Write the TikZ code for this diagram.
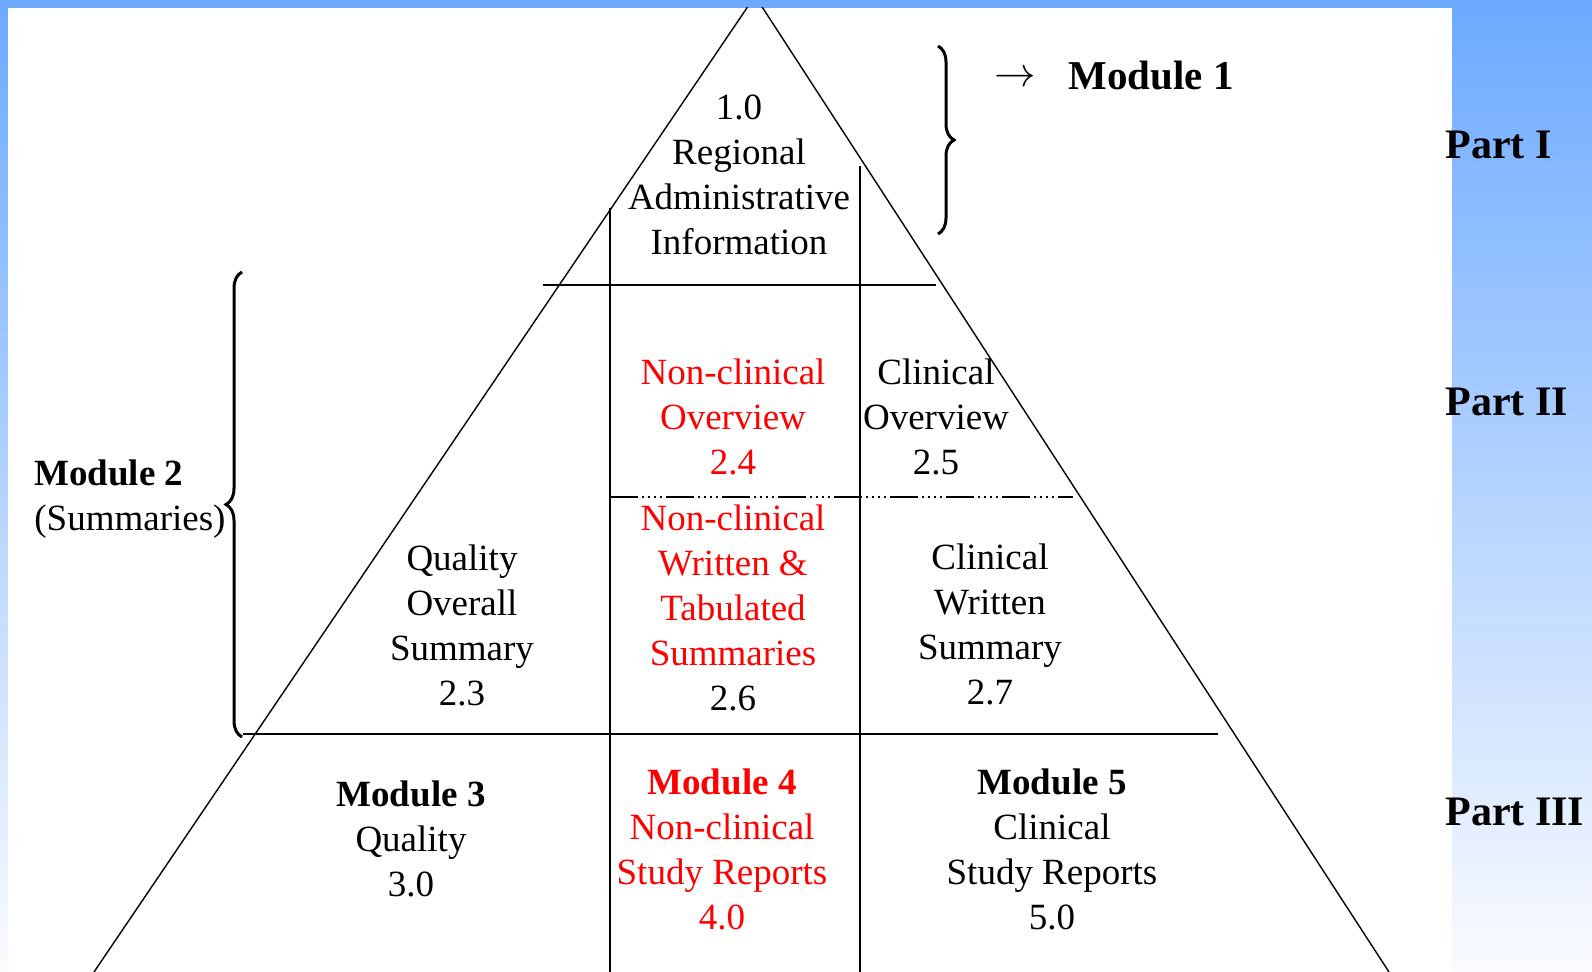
\documentclass[tikz,border=0pt]{standalone}
\usepackage{fontspec}
\setmainfont{LiberationSerif}[Extension=.ttf,UprightFont=*-Regular,BoldFont=*-Bold,ItalicFont=*-Italic,BoldItalicFont=*-BoldItalic]
\usetikzlibrary{decorations.pathreplacing,positioning}
\definecolor{bgtop}{RGB}{108,170,255}
\definecolor{bgbot}{RGB}{250,251,255}
\begin{document}
\begin{tikzpicture}[x=0.5pt,y=-0.5pt,
  celltext/.style={align=center,inner sep=0pt,font=\fontsize{18.5}{22.5}\selectfont},
  redtext/.style={celltext,text=red},
  partlbl/.style={anchor=west,inner sep=0pt,font=\fontsize{21}{25}\selectfont\bfseries},
  gridline/.style={line width=0.7pt},
  bracelbl/.style={decorate,decoration={brace,amplitude=8pt},line width=1.5pt}]
\useasboundingbox (0,0) rectangle (1592,972);
\shade[top color=bgtop,bottom color=bgbot] (0,0) rectangle (1592,972);
\fill[white] (8,8) rectangle (1452,972);
% pyramid and its cells
\begin{scope}
  \clip (8,8) rectangle (1452,972);
  \coordinate (apex) at (755,-4);
  \coordinate (baseL) at (94,972);
  \coordinate (baseR) at (1389,972);
  \draw[gridline] (baseL) -- (apex) -- (baseR);
  \draw[gridline] (543,285) -- (936,285);
  \draw[gridline,dash pattern=on 14pt off 2pt on 1pt off 2pt on 1pt off 2pt on 1pt off 2pt on 1pt off 2pt] (610,497) -- (1073,497);
  \draw[gridline] (243,734) -- (1218,734);
  \draw[gridline] (610,208) -- (610,972);
  \draw[gridline] (860,166) -- (860,972);
\end{scope}
% braces
\draw[bracelbl] (938,46) -- (938,234);
\draw[bracelbl] (242,737) -- (242,272);
% texts
\node[celltext] (info) at (739,175) {1.0\\Regional\\Administrative\\Information};
\node[redtext] (ncover) at (733,417) {Non-clinical\\Overview\\2.4};
\node[celltext] (clover) at (936,417) {Clinical\\Overview\\2.5};
\node[celltext] (ncsum) at (733,608) {\textcolor{red}{Non-clinical}\\\textcolor{red}{Written \&}\\\textcolor{red}{Tabulated}\\\textcolor{red}{Summaries}\\2.6};
\node[celltext] (qos) at (462,625) {Quality\\Overall\\Summary\\2.3};
\node[celltext] (cws) at (990,624) {Clinical\\Written\\Summary\\2.7};
\node[celltext] (mod3) at (411,839) {\textbf{Module 3}\\Quality\\3.0};
\node[redtext] (mod4) at (722,849) {\textbf{Module 4}\\Non-clinical\\Study Reports\\4.0};
\node[celltext] (mod5) at (1052,849) {\textbf{Module 5}\\Clinical\\Study Reports\\5.0};
\node[celltext,align=left,anchor=west] (mod2) at (34,499) {\textbf{Module 2}\\(Summaries)};
\node[inner sep=0pt,font=\fontsize{22}{26}\selectfont] (arr) at (1015,79) {$\rightarrow$};
\node[anchor=west,inner sep=0pt,font=\fontsize{20.5}{24}\selectfont\bfseries] (mod1) at (1068,76) {Module 1};
\node[partlbl] (p1) at (1445,145) {Part I};
\node[partlbl] (p2) at (1445,402) {Part II};
\node[partlbl] (p3) at (1445,812) {Part III};
\end{tikzpicture}
\end{document}
